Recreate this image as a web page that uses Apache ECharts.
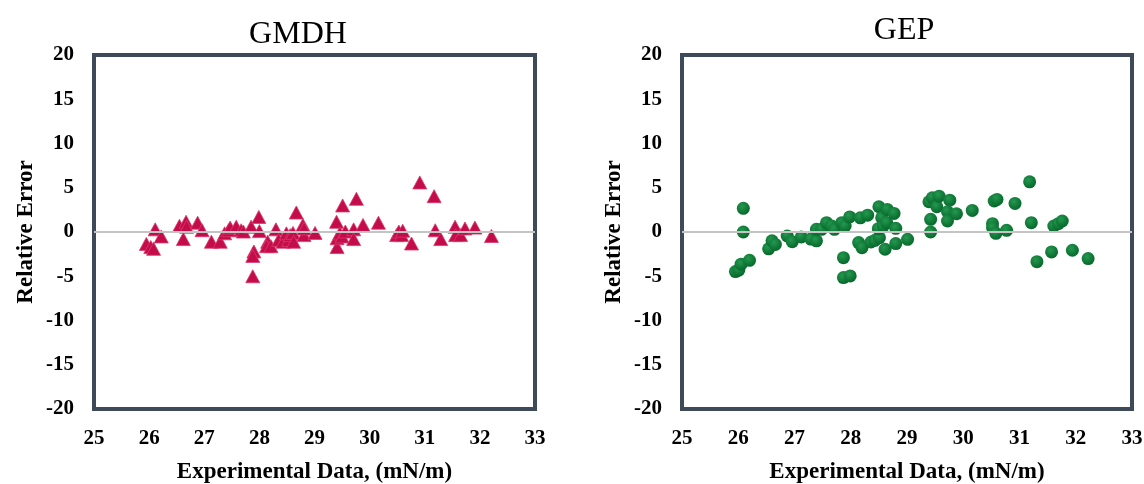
<!DOCTYPE html>
<html>
<head>
<meta charset="utf-8">
<script src="https://cdn.jsdelivr.net/npm/echarts@6/dist/echarts.min.js"></script>
<style>
  html, body { margin: 0; padding: 0; background: #fff; }
  #chart { width: 1144px; height: 484px; }
</style>
</head>
<body>
<div id="chart"></div>
<script>
// GMDH relative errors: [experimental value, relative error]
const gmdhPoints = [
  [25.95, -1.35], [26.03, -1.7], [26.08, -1.9], [26.11, 0.3], [26.22, -0.5],
  [26.55, 0.7], [26.62, -0.8], [26.67, 1.15], [26.68, 0.6], [26.88, 1.05],
  [26.96, 0.2], [27.13, -1.1], [27.29, -1.1], [27.37, -0.15], [27.44, 0.2],
  [27.47, 0.5], [27.58, 0.6], [27.67, 0.2], [27.71, 0.05], [27.85, 0.6],
  [27.99, 1.7], [28.0, 0.1], [27.9, -2.2], [27.88, -2.7], [27.88, -5.0],
  [28.15, -1.1], [28.13, -1.6], [28.21, -1.6], [28.3, 0.3], [28.35, -0.9],
  [28.43, -1.1], [28.49, -0.15], [28.53, -0.9], [28.56, -0.35], [28.61, -0.1],
  [28.62, -1.1], [28.67, 2.2], [28.79, 0.8], [28.81, -0.35], [28.81, 0.4],
  [29.01, -0.1], [29.4, 1.15], [29.41, -1.7], [29.41, -0.7], [29.46, -0.15],
  [29.5, -0.5], [29.51, 3.0], [29.56, 0.05], [29.71, 0.3], [29.71, -0.8],
  [29.76, 3.75], [29.88, 0.8], [30.16, 1.05], [30.49, -0.35], [30.53, 0.05],
  [30.58, -0.35], [30.6, 0.15], [30.76, -1.3], [30.91, 5.6], [31.17, 4.05],
  [31.19, 0.2], [31.29, -0.8], [31.55, 0.6], [31.56, -0.35], [31.65, -0.35],
  [31.73, 0.4], [31.91, 0.5], [32.21, -0.45]
];

// GEP relative errors: [experimental value, relative error]
const gepPoints = [
  [26.09, 2.67], [26.09, 0.0], [25.95, -4.47], [26.01, -4.3], [26.05, -3.64],
  [26.2, -3.2], [26.54, -1.9], [26.6, -1.0], [26.66, -1.4], [26.87, -0.45],
  [26.96, -1.1], [27.12, -0.56], [27.29, -0.8], [27.39, -1.0], [27.39, 0.3],
  [27.48, 0.3], [27.57, 1.05], [27.66, 0.68], [27.71, 0.3], [27.84, 1.05],
  [27.9, 0.68], [27.98, 1.7], [27.87, -2.9], [27.87, -5.15], [27.99, -4.96],
  [28.14, -1.2], [28.2, -1.77], [28.17, 1.6], [28.3, 1.9], [28.36, -1.13],
  [28.43, -0.94], [28.51, -0.64], [28.5, 2.85], [28.49, 0.38], [28.55, 1.6],
  [28.58, 0.68], [28.61, -1.95], [28.65, 2.55], [28.64, 1.05], [28.77, 2.1],
  [28.8, 0.41], [28.8, -1.31], [29.01, -0.83], [29.39, 3.42], [29.45, 3.87],
  [29.53, 2.85], [29.57, 4.05], [29.42, 1.43], [29.42, 0.0], [29.76, 3.6],
  [29.72, 2.29], [29.72, 1.24], [29.88, 2.06], [30.16, 2.44], [30.52, 0.94],
  [30.52, 0.49], [30.55, 3.5], [30.6, 3.68], [30.58, -0.15], [30.77, 0.19],
  [30.92, 3.23], [31.18, 5.67], [31.21, 1.05], [31.31, -3.35], [31.57, -2.25],
  [31.61, 0.68], [31.69, 0.94], [31.76, 1.24], [31.94, -2.06], [32.22, -3.0]
];

const panelTitles = ['GMDH', 'GEP'];
const xMin = 25, xMax = 33, xStep = 1;
const yMin = -20, yMax = 20, yStep = 5;

const serif = '"Liberation Serif", "Times New Roman", serif';
const frameColor = '#3e4959';

const chart = echarts.init(document.getElementById('chart'));

function xAxisFor(idx) {
  return {
    gridIndex: idx, type: 'value', min: xMin, max: xMax, interval: xStep,
    name: 'Experimental Data, (mN/m)', nameLocation: 'middle', nameGap: 52,
    nameTextStyle: { fontFamily: serif, fontWeight: 'bold', fontSize: 23, color: '#000' },
    axisLine: { show: false }, axisTick: { show: false }, splitLine: { show: false },
    axisLabel: { fontFamily: serif, fontWeight: 'bold', fontSize: 21, color: '#000', margin: 19 }
  };
}

function yAxisFor(idx) {
  return {
    gridIndex: idx, type: 'value', min: yMin, max: yMax, interval: yStep,
    name: 'Relative Error', nameLocation: 'middle', nameGap: 56,
    nameTextStyle: { fontFamily: serif, fontWeight: 'bold', fontSize: 23, color: '#000' },
    axisLine: { show: false }, axisTick: { show: false }, splitLine: { show: false },
    axisLabel: { fontFamily: serif, fontWeight: 'bold', fontSize: 21, color: '#000', margin: 20 }
  };
}

function zeroLine(idx) {
  return {
    type: 'line', xAxisIndex: idx, yAxisIndex: idx, data: [], z: 1, silent: true,
    markLine: {
      silent: true, symbol: 'none', label: { show: false },
      lineStyle: { color: '#c4c4c4', width: 2, type: 'solid' },
      data: [{ yAxis: 0 }]
    }
  };
}

const option = {
  backgroundColor: '#fff',
  animation: false,
  title: [
    { text: panelTitles[0], left: 293, top: 14, textAlign: 'center',
      textStyle: { fontFamily: serif, fontWeight: 'normal', fontSize: 32, color: '#000' } },
    { text: panelTitles[1], left: 899, top: 10, textAlign: 'center',
      textStyle: { fontFamily: serif, fontWeight: 'normal', fontSize: 32, color: '#000' } }
  ],
  grid: [
    { left: 94, top: 55, width: 441, height: 354, show: true,
      borderColor: frameColor, borderWidth: 4, backgroundColor: '#fff', outerBoundsMode: 'none' },
    { left: 682, top: 55, width: 450, height: 354, show: true,
      borderColor: frameColor, borderWidth: 4, backgroundColor: '#fff', outerBoundsMode: 'none' }
  ],
  xAxis: [xAxisFor(0), xAxisFor(1)],
  yAxis: [yAxisFor(0), yAxisFor(1)],
  series: [
    zeroLine(0),
    zeroLine(1),
    {
      name: panelTitles[0], type: 'scatter', xAxisIndex: 0, yAxisIndex: 0, z: 3,
      symbol: 'triangle', symbolSize: [14, 13],
      itemStyle: { color: '#c40c4a', borderColor: '#d9396b', borderWidth: 0.8, opacity: 1 },
      data: gmdhPoints
    },
    {
      name: panelTitles[1], type: 'scatter', xAxisIndex: 1, yAxisIndex: 1, z: 3,
      symbol: 'circle', symbolSize: 13,
      itemStyle: {
        opacity: 1,
        color: new echarts.graphic.RadialGradient(0.4, 0.35, 0.7, [
          { offset: 0, color: '#249850' },
          { offset: 1, color: '#046528' }
        ])
      },
      data: gepPoints
    }
  ]
};

chart.setOption(option);
</script>
</body>
</html>
